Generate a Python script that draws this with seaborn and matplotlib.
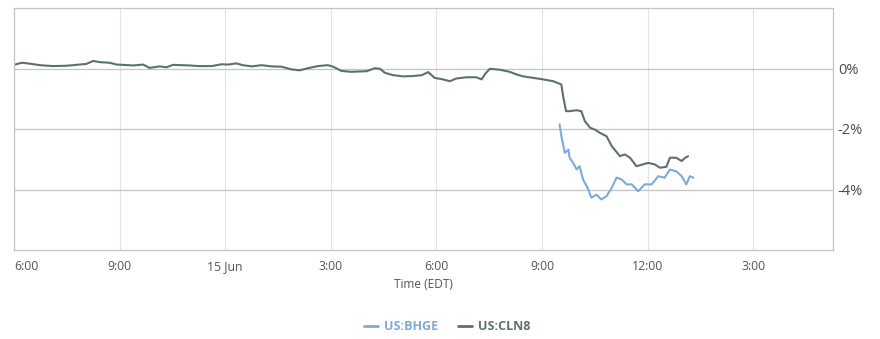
import matplotlib
matplotlib.use("Agg")
import matplotlib.pyplot as plt
import seaborn as sns
import pandas as pd
from matplotlib.lines import Line2D

# ---- data (percent change), times in EDT ----
cln8_times = ["06-14 18:00", "06-14 18:13", "06-14 18:27", "06-14 18:44", "06-14 19:06", "06-14 19:29",
              "06-14 19:46", "06-14 20:03", "06-14 20:15", "06-14 20:26", "06-14 20:43", "06-14 20:55",
              "06-14 21:06", "06-14 21:23", "06-14 21:40", "06-14 21:51", "06-14 22:08", "06-14 22:20",
              "06-14 22:31", "06-14 23:00", "06-14 23:14", "06-14 23:37", "06-14 23:54", "06-15 00:05",
              "06-15 00:19", "06-15 00:30", "06-15 00:45", "06-15 01:02", "06-15 01:19", "06-15 01:36",
              "06-15 01:53", "06-15 02:07", "06-15 02:21", "06-15 02:38", "06-15 02:55", "06-15 03:04",
              "06-15 03:18", "06-15 03:35", "06-15 03:47", "06-15 04:01", "06-15 04:15", "06-15 04:24",
              "06-15 04:32", "06-15 04:46", "06-15 05:03", "06-15 05:20", "06-15 05:35", "06-15 05:46",
              "06-15 05:57", "06-15 06:11", "06-15 06:23", "06-15 06:34", "06-15 06:51", "06-15 07:08",
              "06-15 07:17", "06-15 07:23", "06-15 07:31", "06-15 07:48", "06-15 08:05", "06-15 08:17",
              "06-15 08:28", "06-15 08:45", "06-15 09:02", "06-15 09:19", "06-15 09:33", "06-15 09:36",
              "06-15 09:41", "06-15 09:47", "06-15 09:59", "06-15 10:07", "06-15 10:13", "06-15 10:22",
              "06-15 10:30", "06-15 10:39", "06-15 10:50", "06-15 10:59", "06-15 11:13", "06-15 11:21",
              "06-15 11:30", "06-15 11:41", "06-15 11:52", "06-15 12:01", "06-15 12:12", "06-15 12:21",
              "06-15 12:32", "06-15 12:38", "06-15 12:49", "06-15 12:58", "06-15 13:04", "06-15 13:09"]
cln8_values = [0.12, 0.19, 0.16, 0.11, 0.08, 0.09,
               0.12, 0.15, 0.25, 0.21, 0.19, 0.13,
               0.12, 0.10, 0.13, 0.02, 0.07, 0.04,
               0.12, 0.10, 0.08, 0.08, 0.14, 0.13,
               0.17, 0.11, 0.07, 0.11, 0.07, 0.06,
               -0.03, -0.06, 0.01, 0.08, 0.11, 0.06,
               -0.08, -0.11, -0.10, -0.09, 0.01, -0.01,
               -0.14, -0.22, -0.26, -0.25, -0.22, -0.12,
               -0.31, -0.36, -0.42, -0.33, -0.29, -0.29,
               -0.36, -0.18, -0.01, -0.04, -0.11, -0.20,
               -0.26, -0.31, -0.36, -0.42, -0.53, -0.92,
               -1.41, -1.41, -1.38, -1.41, -1.74, -1.96,
               -2.02, -2.13, -2.24, -2.57, -2.90, -2.84,
               -2.95, -3.23, -3.17, -3.12, -3.17, -3.28,
               -3.25, -2.95, -2.95, -3.06, -2.95, -2.90]

bhge_times = ["06-15 09:30", "06-15 09:33", "06-15 09:39", "06-15 09:45", "06-15 09:47", "06-15 09:53",
              "06-15 09:59", "06-15 10:04", "06-15 10:10", "06-15 10:19", "06-15 10:24", "06-15 10:33",
              "06-15 10:41", "06-15 10:50", "06-15 10:59", "06-15 11:07", "06-15 11:16", "06-15 11:24",
              "06-15 11:33", "06-15 11:44", "06-15 11:55", "06-15 12:07", "06-15 12:18", "06-15 12:29",
              "06-15 12:38", "06-15 12:49", "06-15 12:58", "06-15 13:06", "06-15 13:12", "06-15 13:18"]
bhge_values = [-1.85, -2.24, -2.79, -2.68, -2.95, -3.12,
               -3.34, -3.23, -3.67, -4.00, -4.27, -4.17,
               -4.33, -4.22, -3.94, -3.61, -3.67, -3.83,
               -3.83, -4.06, -3.83, -3.83, -3.56, -3.61,
               -3.34, -3.40, -3.56, -3.83, -3.56, -3.61]

series_names = ["US:BHGE", "US:CLN8"]
series_colors = ["#7eaad9", "#5c716e"]
y_ticks = [0, -2, -4]
y_tick_labels = ["0%", "-2%", "-4%"]
x_tick_times = ["06-14 18:00", "06-14 21:00", "06-15 00:00", "06-15 03:00",
                "06-15 06:00", "06-15 09:00", "06-15 12:00", "06-15 15:00"]
x_tick_labels = ["6:00", "9:00", "15 Jun", "3:00", "6:00", "9:00", "12:00", "3:00"]

# ---- build frame ----
def to_dt(ts):
    return pd.to_datetime(["2018-" + t for t in ts])

df = pd.concat([
    pd.DataFrame({"time": to_dt(bhge_times), "value": bhge_values, "series": series_names[0]}),
    pd.DataFrame({"time": to_dt(cln8_times), "value": cln8_values, "series": series_names[1]}),
], ignore_index=True)

sns.set_style("white")
plt.rcParams["font.family"] = ["Open Sans", "DejaVu Sans"]

fig = plt.figure(figsize=(8.8, 3.39), dpi=100)
ax = fig.add_axes([14 / 880, 1 - 250 / 339, (833 - 14) / 880, (250 - 8) / 339])

palette = dict(zip(series_names, series_colors))
sns.lineplot(data=df, x="time", y="value", hue="series", palette=palette,
             hue_order=series_names, linewidth=1.5, ax=ax, legend=False,
             estimator=None, sort=True)

ax.set_xlim(pd.Timestamp("2018-06-14 18:00"), pd.Timestamp("2018-06-15 17:16"))
ax.set_ylim(-6, 2)

# x axis
ax.set_xticks(to_dt(x_tick_times))
ax.set_xticklabels(x_tick_labels)
ax.tick_params(axis="x", direction="in", length=6, color="#b0b0b0", pad=7,
               labelsize=8.8, labelcolor="#555555")
ax.get_xticklabels()[0].set_horizontalalignment("left")
ax.set_xlabel("Time (EDT)", fontsize=8.6, color="#555555", labelpad=4)

# y axis on right
ax.yaxis.tick_right()
ax.set_yticks(y_ticks)
ax.set_yticklabels(y_tick_labels)
ax.tick_params(axis="y", length=0, pad=3.5, labelsize=10.5, labelcolor="#4a4a4a")
ax.set_ylabel("")

# grid
ax.xaxis.grid(True, color="#e4e4e4", linewidth=0.8)
ax.yaxis.grid(True, color="#c4c4c4", linewidth=0.9)
ax.set_axisbelow(True)
for s in ax.spines.values():
    s.set_visible(True)
    s.set_color("#c4c4c4")
    s.set_linewidth(0.9)

# legend
handles = [Line2D([0], [0], color=c, linewidth=2) for c in series_colors]
leg = fig.legend(handles, series_names, loc="center", bbox_to_anchor=(447 / 880, 1 - 327 / 339),
                 ncol=2, frameon=False, handlelength=1.1, handletextpad=0.5, columnspacing=1.6,
                 prop={"size": 9, "weight": "bold"})
for t, c in zip(leg.get_texts(), series_colors):
    t.set_color(c)

fig.savefig("out.png", dpi=100)
